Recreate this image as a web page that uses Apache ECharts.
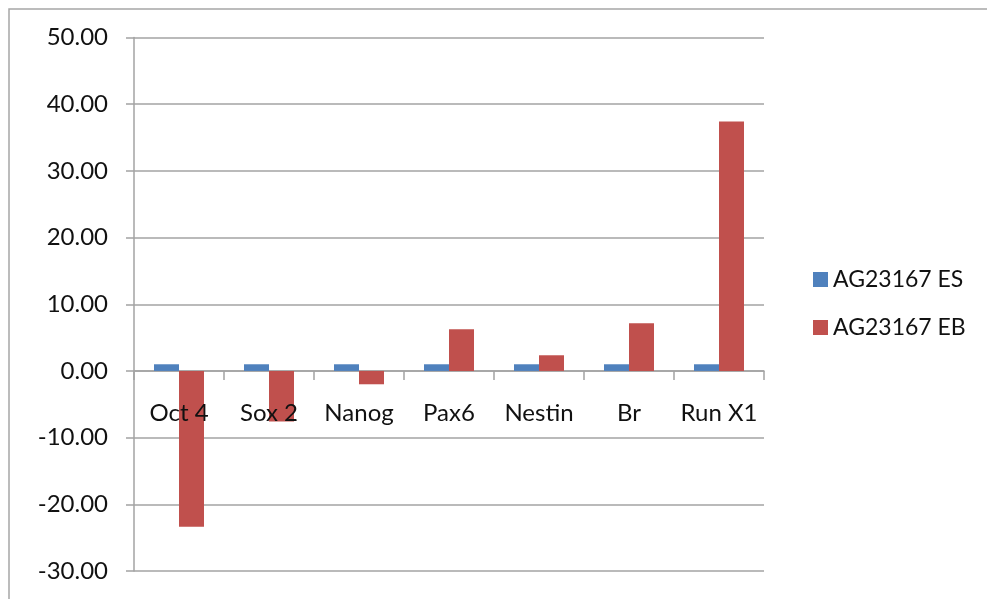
<!DOCTYPE html>
<html>
<head>
<meta charset="utf-8">
<script src="https://cdn.jsdelivr.net/npm/echarts@6/dist/echarts.min.js"></script>
<style>
  html, body { margin: 0; padding: 0; background: #fff; }
  #chart { width: 987px; height: 599px; }
</style>
</head>
<body>
<div id="chart"></div>
<script>
// Gene markers and relative expression for the two AG23167 samples
const genes = ['Oct 4', 'Sox 2', 'Nanog', 'Pax6', 'Nestin', 'Br', 'Run X1'];
const seriesNames = ['AG23167 ES', 'AG23167 EB'];
const esValues = [1.0, 1.0, 1.0, 1.0, 1.0, 1.0, 1.0];
const ebValues = [-23.35, -7.6, -2.0, 6.25, 2.35, 7.15, 37.4];
const yTicks = { min: -30, max: 50, step: 10 };

const FONT = 'Lato';
const GRID_COLOR = '#a3a3a3';

// plot box: zero line sits 2/8 of the height above the bottom edge
const GRID_TOP = 37.5, GRID_BOTTOM = 28, CHART_H = 599;
const plotH = CHART_H - GRID_TOP - GRID_BOTTOM;
const zeroOffset = -plotH * (0 - yTicks.min) / (yTicks.max - yTicks.min);

const chart = echarts.init(document.getElementById('chart'), null, { renderer: 'canvas' });

chart.setOption({
  backgroundColor: '#ffffff',
  animation: false,
  graphic: [{
    type: 'rect',
    shape: { x: 9, y: 9, width: 1000, height: 620 },
    style: { fill: 'none', stroke: '#a6a6a6', lineWidth: 1.5 },
    silent: true
  }],
  grid: { left: 134, right: 223, top: GRID_TOP, bottom: GRID_BOTTOM, outerBoundsMode: 'none', containLabel: false },
  legend: {
    orient: 'vertical',
    left: 808,
    top: 263,
    itemWidth: 15,
    itemHeight: 15,
    itemGap: 25,
    icon: 'rect',
    textStyle: { fontFamily: FONT, fontSize: 23, color: '#111', padding: [0, 0, 0, 0] },
    data: seriesNames
  },
  xAxis: [
    {
      type: 'category',
      data: genes,
      axisLine: { onZero: true, lineStyle: { color: GRID_COLOR, width: 1.5 } },
      axisTick: { show: true, length: 9, lineStyle: { color: GRID_COLOR, width: 1.5 } },
      axisLabel: { show: false },
      splitLine: { show: false }
    },
    {
      // category names, laid along the zero line above the bars
      type: 'category',
      data: genes,
      position: 'bottom',
      offset: zeroOffset,
      z: 5,
      axisLine: { show: false },
      axisTick: { show: false },
      axisLabel: { interval: 0, fontFamily: FONT, fontSize: 24, color: '#111', margin: 30 },
      splitLine: { show: false }
    }
  ],
  yAxis: {
    type: 'value',
    min: yTicks.min,
    max: yTicks.max,
    interval: yTicks.step,
    axisLine: { show: true, lineStyle: { color: GRID_COLOR, width: 1.5 } },
    axisTick: { show: true, length: 8, lineStyle: { color: GRID_COLOR, width: 1.5 } },
    axisLabel: {
      fontFamily: FONT, fontSize: 24, color: '#111', margin: 26,
      formatter: v => v.toFixed(2)
    },
    splitLine: { show: true, lineStyle: { color: GRID_COLOR, width: 1.5 } }
  },
  series: [
    {
      name: seriesNames[0],
      type: 'bar',
      data: esValues,
      barWidth: 25,
      barGap: '0%',
      itemStyle: { color: '#4F81BD' }
    },
    {
      name: seriesNames[1],
      type: 'bar',
      data: ebValues,
      barWidth: 25,
      barGap: '0%',
      itemStyle: { color: '#C0504D' }
    }
  ]
});
</script>
</body>
</html>
